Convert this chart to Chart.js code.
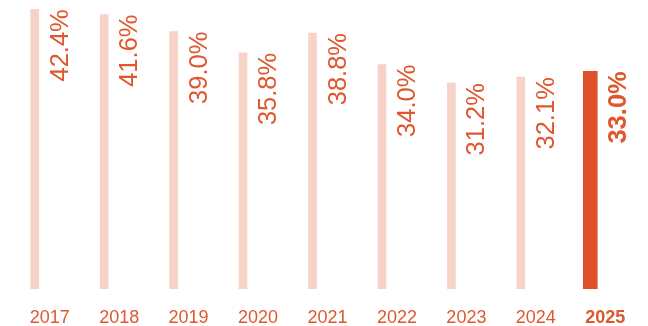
<!DOCTYPE html>
<html lang="en">
<head>
    <meta charset="UTF-8">
    <title>Share by year</title>
    <script src="https://cdn.jsdelivr.net/npm/chart.js"></script>
    <style>
        html, body {
            margin: 0;
            padding: 0;
            background-color: #ffffff;
        }
        #wrap {
            position: relative;
            width: 648px;
            height: 326px;
        }
    </style>
</head>
<body>
<div id="wrap">
    <canvas id="shareChart" width="648" height="326"></canvas>
</div>
<script>
    // values
    const years = ['2017', '2018', '2019', '2020', '2021', '2022', '2023', '2024', '2025'];
    const shares = [42.4, 41.6, 39.0, 35.8, 38.8, 34.0, 31.2, 32.1, 33.0];
    const highlightIndex = 8;

    const lightColor = '#f6d3c7';
    const darkColor = '#dc5129';
    const textColor = '#e0572e';
    const fontFamily = '"Liberation Sans", Arial, Helvetica, sans-serif';

    // split into past years and the highlighted year so each can get its own width
    let pastValues = shares.map((v, i) => i === highlightIndex ? null : v);
    let currentValues = shares.map((v, i) => i === highlightIndex ? v : null);

    // draws the rotated percent labels next to each bar
    const valueLabels = {
        id: 'valueLabels',
        afterDatasetsDraw(chart) {
            let c = chart.ctx;
            chart.data.datasets.forEach((ds, di) => {
                let meta = chart.getDatasetMeta(di);
                meta.data.forEach((bar, i) => {
                    if (ds.data[i] == null) return;
                    let bold = i === highlightIndex;
                    let half = bar.width / 2;
                    c.save();
                    c.translate(bar.x + half + 22, bar.y);
                    c.rotate(-Math.PI / 2);
                    c.fillStyle = textColor;
                    c.font = (bold ? 'bold ' : '') + '25.5px ' + fontFamily;
                    c.textAlign = 'right';
                    c.textBaseline = 'middle';
                    c.fillText(ds.data[i].toFixed(1) + '%', 0, 0);
                    c.restore();
                });
            });
        }
    };

    let ctx = document.getElementById('shareChart').getContext('2d');
    let shareChart = new Chart(ctx, {
        type: 'bar',
        data: {
            labels: years,
            datasets: [
                {
                    data: pastValues,
                    backgroundColor: lightColor,
                    barThickness: 8,
                    grouped: false
                },
                {
                    data: currentValues,
                    backgroundColor: darkColor,
                    barThickness: 14,
                    grouped: false
                }
            ]
        },
        options: {
            responsive: false,
            animation: false,
            layout: {
                padding: { left: 0, right: 23, top: 0, bottom: 0 }
            },
            plugins: {
                legend: { display: false },
                tooltip: { enabled: false }
            },
            scales: {
                y: {
                    display: false,
                    min: 0,
                    max: 43.8
                },
                x: {
                    grid: { display: false, drawTicks: false },
                    border: { display: false },
                    afterFit: function(scale) {
                        scale.height = 37;
                        scale.paddingLeft = 0;
                        scale.paddingRight = 0;
                    },
                    ticks: {
                        color: textColor,
                        padding: 20,
                        maxRotation: 0,
                        labelOffset: 15,
                        font: function(context) {
                            return {
                                family: fontFamily,
                                size: 18,
                                lineHeight: 1,
                                weight: context.index === highlightIndex ? 'bold' : 'normal'
                            };
                        }
                    }
                }
            }
        },
        plugins: [valueLabels]
    });
</script>
</body>
</html>
